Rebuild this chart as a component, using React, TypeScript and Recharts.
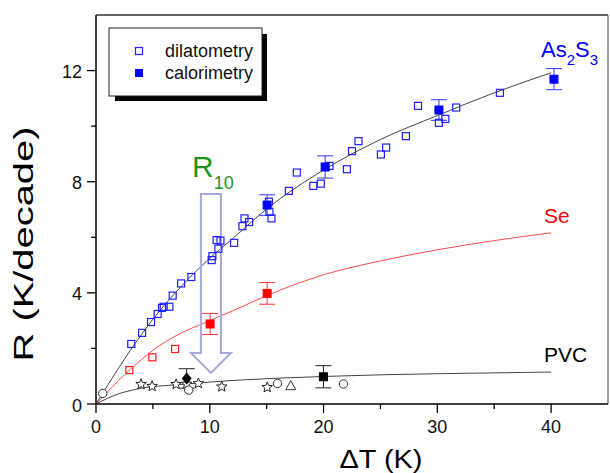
import {
  ComposedChart,
  Line,
  Scatter,
  XAxis,
  YAxis,
  ErrorBar,
  ReferenceLine,
} from 'recharts'

// ---- data ----
const xTicks = [0, 5, 10, 15, 20, 25, 30, 35, 40]
const yTicks = [0, 2, 4, 6, 8, 10, 12]

const as2s3Dil = [
  [3.1, 2.16], [4.05, 2.56], [4.84, 2.95], [5.42, 3.24], [5.8, 3.46], [5.95, 3.5],
  [6.45, 3.5], [6.74, 3.9], [7.48, 4.34], [8.38, 4.57], [10.17, 5.18], [10.23, 5.32],
  [10.76, 5.59], [10.6, 5.9], [10.94, 5.88], [12.14, 5.8], [12.87, 6.4], [13.05, 6.68],
  [13.46, 6.55], [15.2, 7.28], [15.24, 6.92], [15.42, 6.68], [16.95, 7.67], [17.65, 8.33],
  [19.1, 7.85], [19.76, 7.93], [20.52, 8.57], [22.05, 8.45], [22.5, 9.1], [23.07, 9.46],
  [25.04, 8.98], [25.5, 9.23], [27.24, 9.64], [28.3, 10.73], [30.14, 10.12], [30.7, 10.26],
  [31.66, 10.67], [35.5, 11.2],
].map(([x, y]) => ({ x, y }))

const as2s3Cal = [
  { x: 15.04, y: 7.16, err: 0.37 },
  { x: 20.14, y: 8.53, err: 0.4 },
  { x: 30.14, y: 10.58, err: 0.37 },
  { x: 40.25, y: 11.69, err: 0.38 },
]

const as2s3FitX = [0, 1, 2, 3, 4, 5, 6, 8, 10, 12, 15, 20, 25, 30, 35, 40]
const as2s3FitY = [0, 0.66, 1.3, 1.92, 2.5, 3.05, 3.55, 4.45, 5.25, 5.95, 7.02, 8.42, 9.52, 10.38, 11.2, 11.92]

const seDil = [
  { x: 2.93, y: 1.22 },
  { x: 4.95, y: 1.68 },
  { x: 6.95, y: 1.98 },
]
const seCal = [
  { x: 10.03, y: 2.88, err: 0.38 },
  { x: 15.04, y: 3.98, err: 0.39 },
]
const seFitX = [0, 1, 2, 3, 4, 5, 7, 10, 12, 15, 20, 25, 30, 35, 40]
const seFitY = [0, 0.43, 0.85, 1.24, 1.6, 1.93, 2.45, 3.0, 3.35, 3.9, 4.65, 5.15, 5.55, 5.88, 6.16]

const pvcFitX = [0, 1, 2, 3, 4, 6, 8, 10, 13, 16, 20, 25, 30, 35, 40]
const pvcFitY = [0, 0.2, 0.37, 0.48, 0.57, 0.66, 0.72, 0.79, 0.87, 0.93, 0.99, 1.05, 1.09, 1.12, 1.15]

const pvcStars = [
  { x: 3.96, y: 0.71 }, { x: 4.93, y: 0.64 }, { x: 7.04, y: 0.71 }, { x: 7.97, y: 0.72 },
  { x: 9.0, y: 0.74 }, { x: 11.05, y: 0.62 }, { x: 15.05, y: 0.6 },
]
const pvcCircles = [
  { x: 0.59, y: 0.38 }, { x: 8.15, y: 0.5 }, { x: 15.95, y: 0.74 }, { x: 21.75, y: 0.72 },
]
const pvcTriangles = [{ x: 17.12, y: 0.66 }]
const pvcDiamond = [{ x: 7.97, y: 0.92, err: 0.35 }]
const pvcSquare = [{ x: 19.99, y: 0.98, err: 0.4 }]

// arrow marking R10 (shaft top -> tip)
const r10Arrow = [
  { x: 10.1, y: 7.56 },
  { x: 10.1, y: 1.12 },
]

const toPts = (xs: number[], ys: number[]) => xs.map((x, i) => ({ x, y: ys[i] }))

const FONT = '"Liberation Sans", Arial, sans-serif'
const BLUE = '#1f1fff'
const RED = '#ff1a1a'

const OpenSquare = (color: string) => (p: any) => (
  <rect x={p.cx - 3.5} y={p.cy - 3.5} width={7} height={7} fill="none" stroke={color} strokeWidth={1.2} />
)
const FilledSquare = (color: string) => (p: any) => (
  <rect x={p.cx - 4} y={p.cy - 4} width={8} height={8} fill={color} stroke={color} />
)
const Star = (p: any) => {
  const pts: string[] = []
  for (let i = 0; i < 10; i++) {
    const r = i % 2 === 0 ? 5.5 : 2.4
    const a = -Math.PI / 2 + (i * Math.PI) / 5
    pts.push(`${p.cx + r * Math.cos(a)},${p.cy + r * Math.sin(a)}`)
  }
  return <polygon points={pts.join(' ')} fill="white" stroke="#222" strokeWidth={1} />
}
const Circle = (p: any) => <circle cx={p.cx} cy={p.cy} r={4.2} fill="white" stroke="#333" strokeWidth={1} />
const Triangle = (p: any) => (
  <polygon
    points={`${p.cx},${p.cy - 5} ${p.cx - 5},${p.cy + 4} ${p.cx + 5},${p.cy + 4}`}
    fill="white"
    stroke="#333"
    strokeWidth={1}
  />
)
const Diamond = (p: any) => (
  <polygon
    points={`${p.cx},${p.cy - 6} ${p.cx + 5},${p.cy} ${p.cx},${p.cy + 6} ${p.cx - 5},${p.cy}`}
    fill="#000"
  />
)

const XTick = (p: any) => {
  const v = p.payload.value
  const major = v % 10 === 0
  return (
    <g>
      <line x1={p.x} x2={p.x} y1={p.y} y2={p.y + (major ? 9 : 5)} stroke="#000" strokeWidth={1.3} />
      {major && (
        <text x={p.x} y={p.y + 29} textAnchor="middle" fontSize={18} fontFamily={FONT} fill="#111">
          {v}
        </text>
      )}
    </g>
  )
}
const YTick = (p: any) => {
  const v = p.payload.value
  const major = v % 4 === 0
  return (
    <g>
      <line x1={p.x - (major ? 9 : 5)} x2={p.x} y1={p.y} y2={p.y} stroke="#000" strokeWidth={1.3} />
      {major && (
        <text x={p.x - 14} y={p.y + 7.5} textAnchor="end" fontSize={18} fontFamily={FONT} fill="#111">
          {v}
        </text>
      )}
    </g>
  )
}

const ArrowShape = (p: any) => {
  const { x1, y1, y2 } = p
  const cx = x1
  const hw = 10
  const headW = 20
  const headL = 20
  const d = `M${cx - hw},${y1} L${cx + hw},${y1} L${cx + hw},${y2 - headL} L${cx + headW},${y2 - headL} L${cx},${y2} L${cx - headW},${y2 - headL} L${cx - hw},${y2 - headL} Z`
  return <path d={d} fill="none" stroke="#a3a9da" strokeWidth={2} />
}

export default function App() {
  return (
    <div style={{ position: 'absolute', left: 0, top: 0, width: 610, height: 473, background: '#fff' }}>
      <ComposedChart width={610} height={473} margin={{ top: 15, right: 2, bottom: 0, left: 0 }}>
        <XAxis
          type="number"
          dataKey="x"
          domain={[0, 45]}
          ticks={xTicks}
          height={69}
          tickSize={0}
          tickMargin={0}
          tickLine={false}
          tick={<XTick />}
          stroke="#000"
          strokeWidth={1.5}
          allowDataOverflow
        />
        <YAxis
          type="number"
          domain={[0, 14]}
          ticks={yTicks}
          width={96}
          tickSize={0}
          tickMargin={0}
          tickLine={false}
          tick={<YTick />}
          stroke="#000"
          strokeWidth={1.5}
          allowDataOverflow
        />
        <ReferenceLine y={14} stroke="#333" strokeWidth={1.5} />
        <ReferenceLine x={45} stroke="#444" strokeWidth={1} />

        <Line data={toPts(as2s3FitX, as2s3FitY)} dataKey="y" type="monotone" stroke="#444" strokeWidth={1} dot={false} isAnimationActive={false} />
        <Line data={toPts(seFitX, seFitY)} dataKey="y" type="monotone" stroke="#ff4a4a" strokeWidth={1} dot={false} isAnimationActive={false} />
        <Line data={toPts(pvcFitX, pvcFitY)} dataKey="y" type="monotone" stroke="#444" strokeWidth={1} dot={false} isAnimationActive={false} />

        <ReferenceLine
          segment={r10Arrow}
          shape={<ArrowShape />}
          stroke="#a3a9da"
        />

        <Scatter data={as2s3Dil} dataKey="y" shape={OpenSquare(BLUE)} isAnimationActive={false} />
        <Scatter data={as2s3Cal} dataKey="y" shape={FilledSquare('#0000ff')} isAnimationActive={false}>
          <ErrorBar dataKey="err" direction="y" width={8} stroke="#3333ff" strokeWidth={1} />
        </Scatter>
        <Scatter data={seDil} dataKey="y" shape={OpenSquare(RED)} isAnimationActive={false} />
        <Scatter data={seCal} dataKey="y" shape={FilledSquare('#ff0000')} isAnimationActive={false}>
          <ErrorBar dataKey="err" direction="y" width={8} stroke="#ff3333" strokeWidth={1} />
        </Scatter>
        <Scatter data={pvcStars} dataKey="y" shape={Star} isAnimationActive={false} />
        <Scatter data={pvcCircles} dataKey="y" shape={Circle} isAnimationActive={false} />
        <Scatter data={pvcTriangles} dataKey="y" shape={Triangle} isAnimationActive={false} />
        <Scatter data={pvcDiamond} dataKey="y" shape={Diamond} isAnimationActive={false}>
          <ErrorBar dataKey="err" direction="y" width={8} stroke="#222" strokeWidth={1} />
        </Scatter>
        <Scatter data={pvcSquare} dataKey="y" shape={FilledSquare('#000')} isAnimationActive={false}>
          <ErrorBar dataKey="err" direction="y" width={8} stroke="#222" strokeWidth={1} />
        </Scatter>
      </ComposedChart>

      <svg
        width={610}
        height={473}
        style={{ position: 'absolute', left: 0, top: 0, pointerEvents: 'none' }}
        fontFamily={FONT}
      >
        {/* legend */}
        <rect x={115} y={34} width={152} height={67} fill="#000" />
        <rect x={109} y={28} width={153} height={68} fill="#fff" stroke="#222" strokeWidth={1} />
        <rect x={135.5} y={47.5} width={7} height={7} fill="none" stroke={BLUE} strokeWidth={1.2} />
        <text x={165} y={57} fontSize={18} fill="#111">dilatometry</text>
        <rect x={135} y={69} width={8} height={8} fill="#0000ff" />
        <text x={165} y={79} fontSize={18} fill="#111">calorimetry</text>

        {/* curve labels */}
        <text x={541} y={57} fontSize={22} fill="#0000ff">
          As<tspan fontSize={15} dy={8}>2</tspan>
          <tspan dy={-8}>S</tspan>
          <tspan fontSize={15} dy={8}>3</tspan>
        </text>
        <text x={544} y={223} fontSize={21} fill="#ff0000">Se</text>
        <text x={544} y={362} fontSize={21} fill="#000">PVC</text>

        {/* R10 */}
        <text x={192} y={177} fontSize={30} fill="#1e961e">
          R<tspan fontSize={18} dy={12}>10</tspan>
        </text>

        {/* axis titles */}
        <text
          x={33}
          y={244}
          transform="rotate(-90 33 244)"
          textAnchor="middle"
          fontSize={28}
          fill="#000"
          textLength={235}
          lengthAdjust="spacingAndGlyphs"
        >
          R (K/decade)
        </text>
        <text
          x={381}
          y={468}
          textAnchor="middle"
          fontSize={25}
          fill="#000"
          textLength={83}
          lengthAdjust="spacingAndGlyphs"
        >
          ΔT (K)
        </text>
      </svg>
    </div>
  )
}
